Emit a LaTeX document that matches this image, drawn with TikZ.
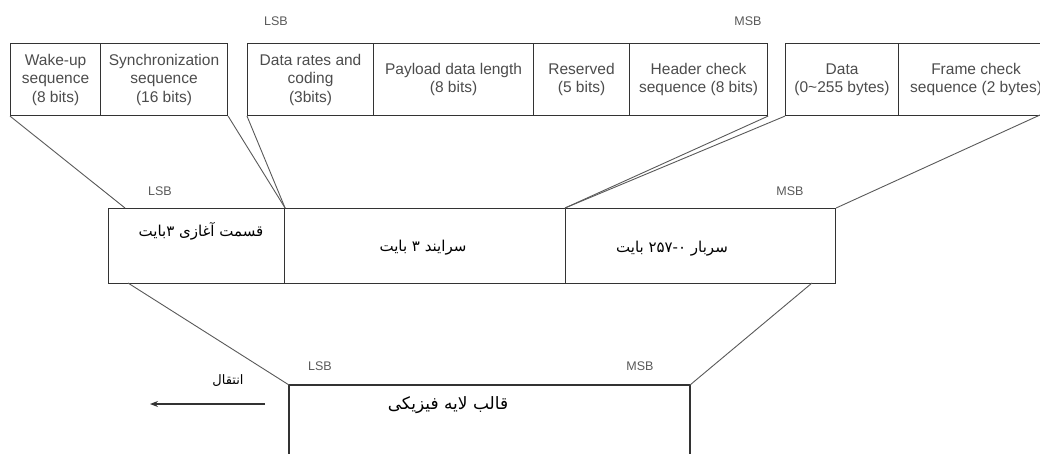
\documentclass[tikz,border=0pt]{standalone}
\usepackage{fontspec}
\setmainfont{Liberation Sans}
\newfontfamily\fa[Script=Arabic]{DejaVu Sans}
\TeXXeTstate=1
\usetikzlibrary{arrows.meta}
\begin{document}
\begin{tikzpicture}[x=1pt,y=-1pt,
  field/.style={draw=black!80,line width=1.1pt,minimum height=72pt,inner sep=0pt,
    anchor=north west,align=center,font=\fontsize{15.5}{18.5}\selectfont,text=black!70},
  mid/.style={draw=black!80,line width=1.1pt,minimum height=75pt,inner sep=0pt,anchor=north west},
  fatext/.style={font=\fa\fontsize{15}{18}\selectfont,text=black},
  bit/.style={font=\fontsize{12.5}{14}\selectfont,text=black!65},
  link/.style={draw=black!65,line width=0.9pt}]
\useasboundingbox (0,0) rectangle (1040,454);
\clip (0,0) rectangle (1040,454);
% top row
\node[field,minimum width=90pt] (wake) at (10,43) {Wake-up\\sequence\\(8 bits)};
\node[field,minimum width=127pt] (sync) at (100,43) {Synchronization\\sequence\\(16 bits)};
\node[field,minimum width=126pt] (rate) at (247,43) {Data rates and\\coding\\(3bits)};
\node[field,minimum width=160pt] (plen) at (373,43) {Payload data length\\(8 bits)};
\node[field,minimum width=96pt] (resv) at (533,43) {Reserved\\(5 bits)};
\node[field,minimum width=138pt] (hcs) at (629,43) {Header check\\sequence (8 bits)};
\node[field,minimum width=113pt] (data) at (785,43) {Data\\(0\textasciitilde255 bytes)};
\node[field,minimum width=155pt] (fcs) at (898,43) {Frame check\\sequence (2 bytes)};
\node[bit] (lsb1) at (276,21) {LSB};
\node[bit] (msb1) at (748,21) {MSB};
% middle row
\node[mid,minimum width=176pt] (pre) at (108,208) {};
\node[mid,minimum width=281pt] (hdr) at (284,208) {};
\node[mid,minimum width=270pt] (pay) at (565,208) {};
\node[fatext] (pret) at (201,231) {\beginR قسمت آغازی ۳بایت\endR};
\node[fatext] (hdrt) at (423,248) {\beginR سرایند ۳ بایت\endR};
\node[fatext] (payt) at (672,249) {\beginR سربار \beginL۲۵۷-۰\endL{} بایت\endR};
\node[bit] (lsb2) at (160,191) {LSB};
\node[bit] (msb2) at (790,191) {MSB};
% connectors top -> middle
\coordinate (c1) at (125,208);
\draw[link] (wake.south west) -- (c1);
\draw[link] (sync.south east) -- (pre.north east);
\draw[link] (rate.south west) -- (pre.north east);
\draw[link] (hcs.south east) -- (pay.north west);
\draw[link] (data.south west) -- (pay.north west);
\coordinate (f1) at (1040,115);
\draw[link] (f1) -- (pay.north east);
% bottom frame
\coordinate (bl) at (289,385);
\coordinate (br) at (690,385);
\coordinate (bl2) at (289,460);
\coordinate (br2) at (690,460);
\draw[draw=black!80,line width=1.1pt] (bl2) -- (bl) -- (br) -- (br2);
\coordinate (m1) at (128,283);
\coordinate (m2) at (812,283);
\draw[link] (m1) -- (bl);
\draw[link] (m2) -- (br);
\node[bit] (lsb3) at (320,366) {LSB};
\node[bit] (msb3) at (640,366) {MSB};
\node[font=\fa\fontsize{17}{20}\selectfont] (phy) at (448,405) {\beginR قالب لایه فیزیکی\endR};
\coordinate (a1) at (265,404);
\coordinate (a2) at (150,404);
\draw[draw=black!80,line width=1.1pt,-{Stealth[length=8pt,width=6pt]}] (a1) -- (a2);
\node[font=\fa\fontsize{13}{15}\selectfont] (tx) at (228,381) {\beginR انتقال\endR};
\end{tikzpicture}
\end{document}
